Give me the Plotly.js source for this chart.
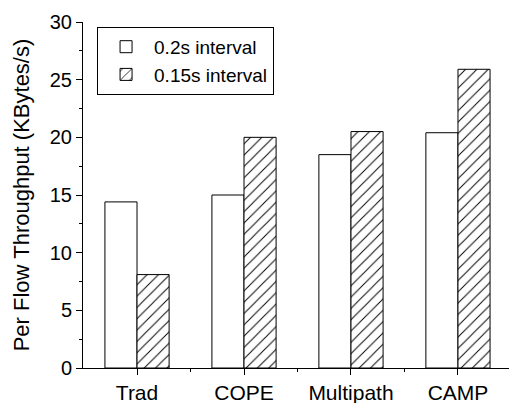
<!DOCTYPE html>
<html>
<head>
<meta charset="utf-8">
<script src="https://cdn.plot.ly/plotly-3.0.1.min.js"></script>
<style>html,body{margin:0;padding:0;background:#fff;}#chart{width:509px;height:403px;}</style>
</head>
<body>
<div id="chart"></div>
<script>
const categories = ["Trad", "COPE", "Multipath", "CAMP"];
const seriesNames = ["0.2s interval", "0.15s interval"];
const interval02 = [14.4, 15.0, 18.5, 20.4];
const interval015 = [8.1, 20.0, 20.5, 25.9];
const yTickVals = [0, 5, 10, 15, 20, 25, 30];

const xPos = categories.map((c, i) => i);
const FONT = "Arial, 'Liberation Sans', sans-serif";

const traces = [
  {
    type: "bar", name: seriesNames[0], x: xPos, y: interval02,
    marker: {color: "#ffffff", line: {color: "#000000", width: 1}}
  },
  {
    type: "bar", name: seriesNames[1], x: xPos, y: interval015,
    marker: {color: "#ffffff", line: {color: "#000000", width: 1},
      pattern: {shape: "/", fgcolor: "#000000", bgcolor: "#ffffff", size: 8, solidity: 0.12}}
  }
];

const layout = {
  width: 509, height: 403,
  margin: {l: 83, r: 0, t: 22, b: 35},
  paper_bgcolor: "#ffffff", plot_bgcolor: "#ffffff",
  font: {family: FONT, color: "#000000"},
  barmode: "group", bargap: 0.4, bargroupgap: 0,
  showlegend: true,
  legend: {
    x: 0.033, y: 0.986, xanchor: "left", yanchor: "top",
    bordercolor: "#000000", borderwidth: 1, bgcolor: "#ffffff",
    font: {size: 19, family: FONT}, tracegroupgap: 0, itemwidth: 46
  },
  xaxis: {
    type: "linear", range: [-0.505, 3.477],
    tickmode: "array", tickvals: xPos, ticktext: categories,
    ticks: "outside", ticklen: 6, tickwidth: 1, tickcolor: "#000000",
    minor: {tickmode: "array", tickvals: [0.5, 1.5, 2.5], ticks: "outside", ticklen: 3, tickcolor: "#000000"},
    showline: true, linecolor: "#000000", linewidth: 1,
    showgrid: false, zeroline: false,
    tickfont: {size: 21, family: FONT}
  },
  yaxis: {
    range: [0, 30], tickmode: "array", tickvals: yTickVals,
    ticks: "outside", ticklen: 6, tickwidth: 1, tickcolor: "#000000",
    minor: {dtick: 2.5, ticks: "outside", ticklen: 3, tickcolor: "#000000"},
    showline: true, linecolor: "#000000", linewidth: 1,
    showgrid: false, zeroline: false,
    tickfont: {size: 20, family: FONT},
    title: {text: "Per Flow Throughput (KBytes/s)", font: {size: 22, family: FONT}, standoff: 14}
  }
};

Plotly.newPlot("chart", traces, layout, {displayModeBar: false, staticPlot: true});
</script>
</body>
</html>
